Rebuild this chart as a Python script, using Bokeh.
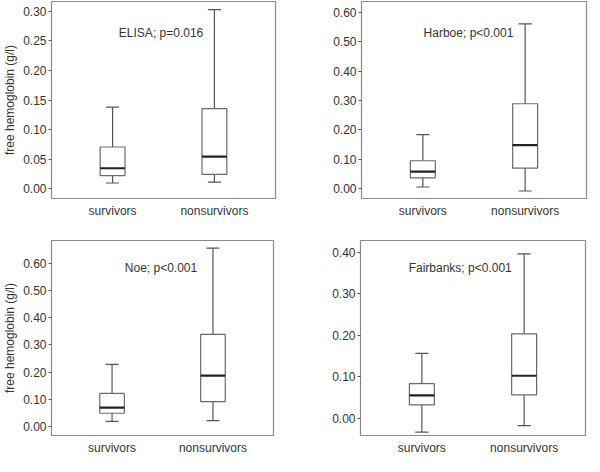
from bokeh.plotting import figure
from bokeh.layouts import column, row
from bokeh.models import FixedTicker, NumeralTickFormatter, Range1d, ColumnDataSource
from bokeh.core.properties import value
from bokeh.embed import file_html
from bokeh.resources import INLINE

groups = ["survivors", "nonsurvivors"]
xpos = [0, 1]

elisa_low = [0.0095, 0.011]
elisa_q1 = [0.022, 0.024]
elisa_med = [0.0345, 0.054]
elisa_q3 = [0.0705, 0.1355]
elisa_high = [0.138, 0.303]

harboe_low = [0.0056, -0.008]
harboe_q1 = [0.037, 0.070]
harboe_med = [0.058, 0.1485]
harboe_q3 = [0.095, 0.289]
harboe_high = [0.184, 0.561]

noe_low = [0.018, 0.0207]
noe_q1 = [0.048, 0.091]
noe_med = [0.069, 0.1865]
noe_q3 = [0.121, 0.339]
noe_high = [0.228, 0.657]

fair_low = [-0.034, -0.018]
fair_q1 = [0.0317, 0.056]
fair_med = [0.0545, 0.102]
fair_q3 = [0.083, 0.203]
fair_high = [0.156, 0.396]

titles = ["ELISA; p=0.016", "Harboe; p<0.001", "Noe; p<0.001", "Fairbanks; p<0.001"]
ticks_top_left = [0.0, 0.05, 0.10, 0.15, 0.20, 0.25, 0.30]
ticks_tenths_6 = [0.0, 0.1, 0.2, 0.3, 0.4, 0.5, 0.6]
ticks_tenths_4 = [0.0, 0.1, 0.2, 0.3, 0.4]

FONT = "Liberation Sans"
BOX_W = 0.244
CAP = 0.064


def make_panel(low, q1, med, q3, high, title, tx, ty, yr, ticks, ylabel,
               borders, fw, fh):
    bl, br, bt, bb = borders
    p = figure(frame_width=fw, frame_height=fh, output_backend="svg", toolbar_location=None,
               x_range=Range1d(-0.6, 1.6), y_range=Range1d(*yr),
               min_border_left=bl, min_border_right=br, min_border_top=bt,
               min_border_bottom=bb)
    p.outline_line_color = "#8a8a8a"
    p.outline_line_width = 1.2
    p.xgrid.visible = False
    p.ygrid.visible = False
    p.background_fill_color = "white"
    p.border_fill_color = "white"

    src = ColumnDataSource(dict(x=xpos, low=low, q1=q1, med=med, q3=q3, high=high,
                                cl=[xi - CAP for xi in xpos], cr=[xi + CAP for xi in xpos],
                                bl=[xi - BOX_W / 2 for xi in xpos],
                                br=[xi + BOX_W / 2 for xi in xpos]))
    p.segment(x0="x", y0="q3", x1="x", y1="high", source=src, line_color="#555555", line_width=1.2)
    p.segment(x0="x", y0="low", x1="x", y1="q1", source=src, line_color="#555555", line_width=1.2)
    p.segment(x0="cl", y0="high", x1="cr", y1="high", source=src, line_color="#555555", line_width=1.2)
    p.segment(x0="cl", y0="low", x1="cr", y1="low", source=src, line_color="#555555", line_width=1.2)
    p.quad(left="bl", right="br", bottom="q1", top="q3", source=src,
           fill_color="white", line_color="#6a6a6a", line_width=1.2)
    p.segment(x0="bl", y0="med", x1="br", y1="med", source=src, line_color="#222222", line_width=2.2)

    p.text(x=[tx], y=[ty], text=[title], text_font=value(FONT), text_font_size="12px",
           text_color="#333333", text_align="center", text_baseline="middle")

    xa = p.xaxis[0]
    xa.ticker = FixedTicker(ticks=xpos)
    xa.major_label_overrides = {i: g for i, g in zip(xpos, groups)}
    xa.axis_line_color = None
    xa.major_tick_line_color = None
    xa.minor_tick_line_color = None
    xa.major_tick_out = 0
    xa.major_tick_in = 0
    xa.major_label_standoff = 5
    xa.major_label_text_font = FONT
    xa.major_label_text_font_size = "12px"
    xa.major_label_text_color = "#333333"

    ya = p.yaxis[0]
    ya.ticker = FixedTicker(ticks=ticks)
    ya.formatter = NumeralTickFormatter(format="0.00")
    ya.axis_line_color = None
    ya.major_tick_out = 3
    ya.major_tick_in = 0
    ya.major_tick_line_color = "#555555"
    ya.minor_tick_line_color = None
    ya.major_label_standoff = 2
    ya.major_label_text_font = FONT
    ya.major_label_text_font_size = "12px"
    ya.major_label_text_color = "#333333"
    if ylabel:
        ya.axis_label = ylabel
        ya.axis_label_standoff = 3
        ya.axis_label_text_font = FONT
        ya.axis_label_text_font_size = "12px"
        ya.axis_label_text_font_style = "normal"
        ya.axis_label_text_color = "#333333"
    return p


p1 = make_panel(elisa_low, elisa_q1, elisa_med, elisa_q3, elisa_high, titles[0], 0.476, 0.263,
                (-0.0167, 0.3167), ticks_top_left, "free hemoglobin (g/l)", (46, 22, 1, 30), 224, 197)
p2 = make_panel(harboe_low, harboe_q1, harboe_med, harboe_q3, harboe_high, titles[1], 0.446, 0.53,
                (-0.0335, 0.637), ticks_tenths_6, None, (64, 3, 1, 30), 225, 197)
p3 = make_panel(noe_low, noe_q1, noe_med, noe_q3, noe_high, titles[2], 0.485, 0.585,
                (-0.034, 0.685), ticks_tenths_6, "free hemoglobin (g/l)", (46, 24, 12, 21), 222, 195)
p4 = make_panel(fair_low, fair_q1, fair_med, fair_q3, fair_high, titles[3], 0.375, 0.361,
                (-0.042, 0.428), ticks_tenths_4, None, (63, 4, 12, 21), 225, 195)

layout = column(row(p1, p2, spacing=0), row(p3, p4, spacing=0), spacing=0)

open("out.html", "w").write(file_html(layout, INLINE))
